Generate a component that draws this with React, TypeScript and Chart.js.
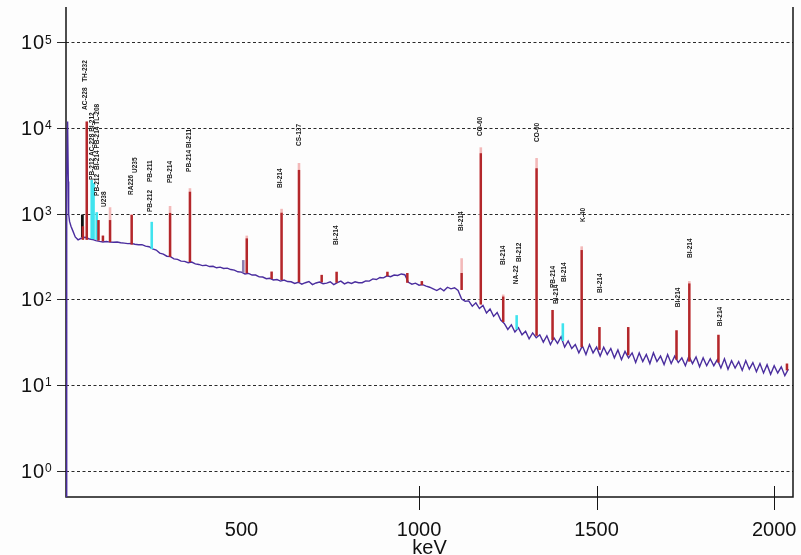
import React, { useEffect, useRef } from "react";
import { Chart, registerables } from "chart.js";

Chart.register(...registerables);

// ---------------- data ----------------
// low-energy edge of the spectrum (keV, counts)
const lowEnergy = [7, 8, 10.5, 12.5, 13.5, 16, 20, 25, 32];
const lowCounts = [0.5, 2600, 12000, 2400, 1000, 820, 720, 640, 540];

// continuum, one value per 10 keV channel starting at 40 keV
const gridStartKeV = 40;
const gridStepKeV = 10;
const gridCounts = [
  500, 525, 535, 515, 505, 490, 480, 472, 478, 470,
  468, 472, 462, 458, 452, 455, 444, 438, 440, 422,
  415, 392, 380, 350, 340, 322, 318, 300, 296, 282,
  280, 270, 275, 262, 258, 250, 253, 244, 246, 236,
  240, 232, 234, 225, 222, 212, 210, 200, 203, 194,
  194, 185, 184, 176, 178, 170, 172, 165, 170, 163,
  162, 155, 160, 152, 158, 163, 150, 157, 161, 154,
  156, 162, 150, 158, 165, 153, 160, 155, 162, 158,
  158, 166, 165, 175, 172, 182, 180, 190, 186, 194,
  192, 200, 196, 160, 152, 156, 148, 150, 144, 140,
  134, 128, 136, 127, 140, 134, 138, 128, 102, 96,
  97, 84, 92, 79, 86, 70, 78, 64, 71, 58,
  53, 45, 51, 42, 47, 39, 43, 35, 41, 36,
  39, 32, 38, 30, 36, 31, 37, 28, 33, 27,
  30, 24, 29, 23, 30, 24, 28, 22, 28, 23,
  27, 21, 26, 20, 25, 21, 24, 18.5, 24, 19,
  23, 18, 24, 19, 22, 17.5, 23, 18, 22, 18.5,
  21, 17, 22, 18, 21.5, 16.5, 21, 17, 20.5, 17,
  20, 16, 20.5, 15.5, 19.5, 16, 19, 15, 19.5, 15.5,
  18.5, 14.5, 18, 14, 17.5, 13.5, 17, 14, 16.5, 13, 15.5,
];

// peaks: energy (keV), continuum under the peak, peak height, faint tip height, kind
const peakEnergy = [51.8, 53.5, 64.5, 78.5, 83.6, 92.6, 97.4, 110, 130, 191, 247.5, 299, 355, 505, 515, 585, 613, 662, 726, 768, 911, 967, 1008, 1120, 1174, 1237, 1275, 1331, 1376, 1405, 1458, 1508, 1589, 1725, 1761, 1843, 2036];
const peakBase = [540, 500, 500, 510, 510, 500, 490, 480, 470, 440, 390, 316, 275, 208, 204, 175, 170, 160, 160, 158, 188, 158, 148, 130, 88, 55, 45, 38, 34, 33, 28, 26, 22.5, 20, 19, 18.5, 15];
const peakTop = [980, 720, 12000, 2500, 2300, 1050, 850, 560, 850, 975, 810, 1030, 1820, 290, 520, 213, 1035, 3270, 195, 212, 212, 205, 165, 205, 5120, 109, 66, 3420, 76, 53, 380, 48, 48, 44, 155, 39, 18];
const peakTip = [980, 720, 12000, 2500, 2300, 1050, 850, 560, 1200, 1000, 810, 1240, 2000, 290, 560, 213, 1150, 3940, 195, 212, 212, 205, 165, 305, 6000, 115, 66, 4500, 76, 53, 420, 48, 48, 44, 165, 39, 18];
const peakKind = [
  "marker", "natural", "natural", "interference", "interference", "interference", "natural", "natural", "natural", "natural",
  "interference", "natural", "natural", "annihilation", "natural", "natural", "natural", "natural", "natural", "natural",
  "natural", "natural", "natural", "natural", "natural", "natural", "interference", "natural", "natural", "interference",
  "natural", "natural", "natural", "natural", "natural", "natural", "natural",
];

// nuclide labels: energy (keV), text, count level where the label starts
const labelEnergy = [61.4, 61.4, 80, 93, 93, 114, 189, 200, 243, 243, 298, 354, 609, 662, 768, 1120, 1173, 1238, 1281, 1274, 1332, 1377, 1408, 1385, 1461, 1509, 1729, 1764, 1847];
const labelText = [
  "TH-232", "AC-228", "PB-212 AC-228 BI-212", "BI-214 PB-214 TL-208", "PB-212", "U238", "RA226", "U235", "PB-211", "PB-212",
  "PB-214", "PB-214 BI-211", "BI-214", "CS-137", "BI-214", "BI-214", "CO-60", "BI-214", "BI-212", "NA-22",
  "CO-60", "PB-214", "BI-214", "BI-214", "K-40", "BI-214", "BI-214", "BI-214", "BI-214",
];
const labelLevel = [34800, 16400, 2500, 3270, 1625, 1208, 1667, 3010, 2365, 1056, 2300, 3095, 2013, 6225, 435, 634, 8140, 254, 275, 152, 6930, 137, 161, 89, 807, 120, 82, 307, 49];

// axes
const xMinKeV = 6;
const xMaxKeV = 2053;
const xTickValues = [500, 1000, 1500, 2000];
const xMarkedTicks = [1000, 1500, 2000];
const xTitle = "keV";
const yMin = 0.5;
const yMax = 260000;
const yTickValues = [1, 10, 100, 1000, 10000, 100000];
const yTickExponents = ["0", "1", "2", "3", "4", "5"];

// ---------------- styles ----------------
const kindColor: Record<string, string> = {
  natural: "#b3272b",
  interference: "#3fe3ee",
  marker: "#111111",
  annihilation: "#8c7fb0",
};
const kindTipColor: Record<string, string> = {
  natural: "#f3b9b9",
  interference: "#a8f3f7",
  marker: "#111111",
  annihilation: "#c9c0de",
};
const FONT = '"Liberation Sans", Arial, sans-serif';

const decorPlugin = {
  id: "spectrumDecor",
  beforeDatasetsDraw(chart: any) {
    const { ctx, chartArea: a, scales } = chart;
    const xs = scales.x;
    ctx.save();
    ctx.strokeStyle = "#151515";
    ctx.lineWidth = 1.5;
    ctx.beginPath();
    ctx.moveTo(a.left, a.top);
    ctx.lineTo(a.left, a.bottom);
    ctx.lineTo(a.right, a.bottom);
    ctx.lineTo(a.right, a.top);
    ctx.stroke();
    ctx.lineWidth = 1;
    ctx.beginPath();
    for (const v of xMarkedTicks) {
      const px = Math.round(xs.getPixelForValue(v)) + 0.5;
      ctx.moveTo(px, a.bottom - 11);
      ctx.lineTo(px, a.bottom + 13);
    }
    ctx.stroke();
    ctx.restore();
  },
  afterDraw(chart: any) {
    const { ctx, chartArea: a, scales } = chart;
    const xs = scales.x;
    const ys = scales.y;
    ctx.save();
    // y tick labels 10^n
    ctx.fillStyle = "#111";
    ctx.textBaseline = "alphabetic";
    ctx.textAlign = "left";
    yTickValues.forEach((v, i) => {
      const py = ys.getPixelForValue(v);
      ctx.font = `20px ${FONT}`;
      (ctx as any).letterSpacing = "1px";
      ctx.fillText("10", 21, py + 6.5);
      (ctx as any).letterSpacing = "0px";
      ctx.font = `12px ${FONT}`;
      ctx.fillText(yTickExponents[i], 45, py + 1);
    });
    // x title
    ctx.font = `20px ${FONT}`;
    ctx.textAlign = "center";
    ctx.fillText(xTitle, (a.left + a.right) / 2, 554);
    // nuclide labels
    ctx.font = `bold 6.5px ${FONT}`;
    ctx.fillStyle = "#1a1a1a";
    ctx.textAlign = "left";
    ctx.textBaseline = "middle";
    labelText.forEach((t, i) => {
      const px = xs.getPixelForValue(labelEnergy[i]);
      const py = ys.getPixelForValue(labelLevel[i]);
      ctx.save();
      ctx.translate(px, py);
      ctx.rotate(-Math.PI / 2);
      ctx.fillText(t, 0, 0);
      ctx.restore();
    });
    ctx.restore();
  },
};

function segmentsFor(heights: number[], from: number[]) {
  const pts: { x: number; y: number | null }[] = [];
  peakEnergy.forEach((e, i) => {
    pts.push({ x: e, y: from[i] });
    pts.push({ x: e, y: heights[i] });
    pts.push({ x: e, y: null });
  });
  return pts;
}

export default function App() {
  const canvasRef = useRef<HTMLCanvasElement | null>(null);

  useEffect(() => {
    if (!canvasRef.current) return;
    const continuum = lowEnergy
      .map((e, i) => ({ x: e, y: lowCounts[i] }))
      .concat(gridCounts.map((c, i) => ({ x: gridStartKeV + i * gridStepKeV, y: c })));

    const chart = new Chart(canvasRef.current, {
      type: "line",
      data: {
        datasets: [
          {
            label: "tips",
            data: segmentsFor(peakTip, peakBase),
            borderWidth: 2.6,
            pointRadius: 0,
            spanGaps: false,
            order: 2,
            borderColor: "#f3b9b9",
            segment: {
              borderColor: (c: any) => kindTipColor[peakKind[Math.floor(c.p0DataIndex / 3)]],
            },
          } as any,
          {
            label: "continuum",
            data: continuum,
            borderColor: "#4a2d9e",
            borderWidth: 1.4,
            pointRadius: 0,
            tension: 0,
            order: 1,
          },
          {
            label: "peaks",
            data: segmentsFor(peakTop, peakBase),
            borderWidth: 2.4,
            pointRadius: 0,
            spanGaps: false,
            order: 0,
            borderColor: "#b3272b",
            segment: {
              borderColor: (c: any) => kindColor[peakKind[Math.floor(c.p0DataIndex / 3)]],
            },
          } as any,
        ],
      },
      options: {
        animation: false,
        responsive: false,
        maintainAspectRatio: false,
        layout: { padding: { top: 7, right: 8, left: 0, bottom: 0 } },
        plugins: { legend: { display: false }, tooltip: { enabled: false } },
        scales: {
          x: {
            type: "linear",
            min: xMinKeV,
            max: xMaxKeV,
            grid: { display: false },
            border: { display: false },
            afterBuildTicks: (s: any) => {
              s.ticks = xTickValues.map((v) => ({ value: v }));
            },
            afterFit: (s: any) => {
              s.height = 58;
              s.paddingLeft = 0;
              s.paddingRight = 0;
            },
            ticks: {
              autoSkip: false,
              maxRotation: 0,
              padding: 13,
              color: "#111",
              font: { family: FONT, size: 20 },
              callback: (v: any) => String(v),
            },
          },
          y: {
            type: "logarithmic",
            min: yMin,
            max: yMax,
            afterBuildTicks: (s: any) => {
              s.ticks = yTickValues.map((v) => ({ value: v }));
            },
            afterFit: (s: any) => {
              s.width = 66;
              s.paddingTop = 0;
              s.paddingBottom = 0;
            },
            ticks: { display: false },
            grid: {
              color: "#2a2a2a",
              lineWidth: 1,
              drawTicks: true,
              tickLength: 9,
              tickColor: "#2a2a2a",
              tickWidth: 1,
              tickBorderDash: [],
            },
            border: { display: false, dash: [3, 2.5] },
          },
        },
      } as any,
      plugins: [decorPlugin],
    });
    return () => chart.destroy();
  }, []);

  return (
    <div style={{ position: "fixed", left: 0, top: 0, width: 801, height: 555, background: "#fdfdfd" }}>
      <canvas ref={canvasRef} width={801} height={555} />
    </div>
  );
}
